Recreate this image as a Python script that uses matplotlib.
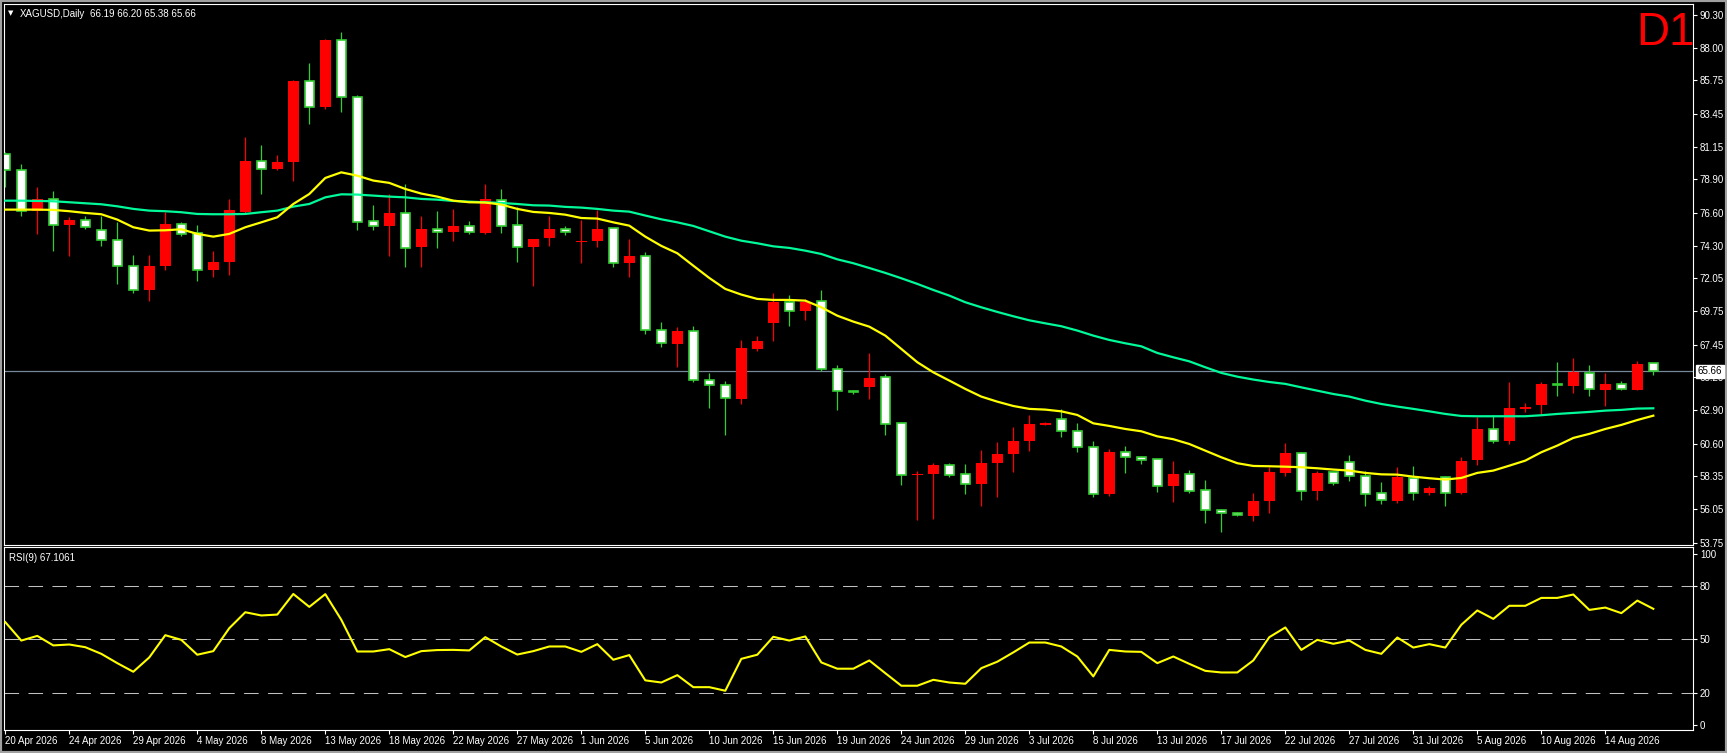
import matplotlib
matplotlib.use("Agg")
import matplotlib.pyplot as plt
from matplotlib.patches import Rectangle
import numpy as np
import pandas as pd

# XAGUSD daily bars, 20 Apr 2026 .. 18 Aug 2026 (broker has Sunday bars)
opens = [80.65, 79.55, 76.69, 77.52, 75.72, 76.09, 75.39, 74.70, 72.90, 71.22,
         72.88, 75.81, 75.16, 72.60, 73.16, 76.66, 80.17, 79.59, 80.08, 85.70,
         83.88, 88.54, 84.60, 76.02, 75.65, 76.57, 74.19, 75.46, 75.23, 75.67,
         75.16, 77.45, 75.74, 74.19, 74.82, 75.44, 74.59, 74.61, 75.53, 73.09,
         73.59, 68.47, 67.50, 68.40, 65.01, 64.67, 63.67, 67.13, 68.93, 70.41,
         69.76, 70.46, 65.75, 64.25, 64.50, 65.22, 62.04, 58.46, 58.48, 59.13,
         58.51, 57.79, 59.25, 59.87, 60.77, 61.88, 62.31, 61.48, 60.38, 57.10,
         60.03, 59.71, 59.55, 57.65, 58.51, 57.40, 56.02, 55.83, 55.58, 56.62,
         58.60, 59.96, 57.31, 58.62, 59.34, 58.37, 57.19, 56.66, 58.23, 57.17,
         58.28, 57.17, 59.48, 61.62, 60.77, 62.98, 63.31, 64.74, 64.62, 65.52,
         64.34, 64.74, 64.34, 66.19]
highs = [80.80, 79.96, 78.39, 78.12, 76.32, 76.36, 76.36, 75.97, 73.69, 73.69,
         76.66, 75.95, 75.76, 73.96, 77.56, 81.85, 81.30, 80.61, 85.80, 86.97,
         88.60, 89.12, 84.76, 77.15, 77.91, 78.60, 76.39, 76.73, 76.87, 76.04,
         78.60, 78.25, 76.96, 74.80, 76.39, 75.67, 76.09, 76.80, 75.55, 74.79,
         73.89, 69.05, 68.70, 68.77, 65.52, 64.97, 67.80, 68.08, 71.06, 70.92,
         70.62, 71.26, 66.07, 64.30, 66.90, 65.43, 62.13, 58.74, 59.27, 59.25,
         59.22, 60.19, 60.74, 61.78, 62.61, 62.11, 63.01, 62.04, 60.81, 60.24,
         60.47, 59.77, 59.57, 59.43, 58.81, 58.09, 56.05, 55.90, 57.21, 58.97,
         60.68, 60.00, 58.74, 58.65, 59.85, 58.69, 57.98, 59.01, 59.08, 57.70,
         58.39, 59.71, 62.43, 62.59, 64.90, 63.42, 64.90, 66.24, 66.56, 66.07,
         65.47, 64.92, 66.30, 66.20]
lows = [78.35, 76.39, 75.12, 73.92, 73.62, 75.49, 74.31, 71.68, 71.01, 70.50,
        72.65, 74.98, 71.89, 72.12, 72.30, 76.60, 77.88, 79.55, 78.76, 82.71,
        83.74, 83.54, 75.42, 75.42, 73.57, 72.81, 72.81, 74.12, 74.66, 75.09,
        75.10, 75.16, 73.16, 71.50, 74.26, 75.05, 73.09, 74.19, 72.86, 72.12,
        68.20, 67.27, 65.89, 64.85, 63.05, 61.18, 63.33, 67.00, 67.69, 68.77,
        69.19, 65.66, 62.96, 64.04, 63.67, 61.18, 57.72, 55.32, 55.37, 58.28,
        57.10, 56.32, 56.89, 58.62, 60.08, 61.88, 61.04, 60.01, 56.89, 57.01,
        58.55, 59.18, 57.24, 56.55, 57.17, 55.09, 54.47, 55.58, 55.23, 55.79,
        58.35, 56.73, 56.73, 57.77, 58.00, 56.32, 56.41, 56.48, 56.73, 57.08,
        56.27, 57.12, 59.13, 60.63, 60.58, 62.77, 62.66, 63.93, 64.09, 63.88,
        63.19, 64.32, 64.32, 65.38]
closes = [79.55, 76.69, 77.54, 75.74, 76.11, 75.60, 74.70, 72.90, 71.24, 72.92,
          75.83, 75.12, 72.63, 73.20, 76.80, 80.19, 79.59, 80.12, 85.73, 83.91,
          88.57, 84.60, 75.95, 75.67, 76.59, 74.15, 75.49, 75.26, 75.67, 75.26,
          77.54, 75.67, 74.22, 74.77, 75.46, 75.28, 74.63, 75.46, 73.11, 73.59,
          68.47, 67.57, 68.43, 65.01, 64.67, 63.77, 67.23, 67.71, 70.41, 69.79,
          70.43, 65.77, 64.25, 64.21, 65.17, 61.97, 58.44, 58.51, 59.15, 58.44,
          57.82, 59.29, 59.92, 60.81, 61.97, 62.04, 61.48, 60.38, 57.12, 60.05,
          59.68, 59.48, 57.68, 58.51, 57.33, 56.02, 55.81, 55.67, 56.66, 58.67,
          59.98, 57.31, 58.60, 57.88, 58.37, 57.12, 56.71, 58.32, 57.19, 57.54,
          57.19, 59.43, 61.64, 60.77, 63.10, 63.17, 64.76, 64.69, 65.54, 64.39,
          64.76, 64.39, 66.14, 65.66]

# moving averages as plotted (yellow = fast, green = slow)
ma_fast = [76.80, 76.80, 76.80, 76.78, 76.69, 76.57, 76.48, 76.11, 75.58, 75.35,
           75.37, 75.44, 75.12, 74.93, 75.12, 75.58, 75.92, 76.27, 77.19, 77.88,
           78.99, 79.38, 79.15, 78.81, 78.65, 78.23, 77.91, 77.70, 77.42, 77.31,
           77.29, 77.15, 76.85, 76.64, 76.57, 76.45, 76.22, 76.18, 75.92, 75.69,
           74.93, 74.29, 73.78, 72.92, 72.07, 71.31, 70.92, 70.62, 70.55, 70.55,
           70.50, 70.04, 69.46, 69.05, 68.70, 68.08, 67.16, 66.24, 65.54, 64.97,
           64.39, 63.86, 63.51, 63.21, 63.01, 62.96, 62.84, 62.59, 62.01, 61.83,
           61.62, 61.46, 61.11, 60.91, 60.58, 60.12, 59.66, 59.25, 59.06, 59.04,
           59.01, 58.97, 58.90, 58.81, 58.74, 58.58, 58.48, 58.46, 58.32, 58.21,
           58.12, 58.23, 58.58, 58.74, 59.08, 59.43, 60.01, 60.47, 61.00, 61.28,
           61.62, 61.90, 62.24, 62.54]
ma_slow = [77.42, 77.42, 77.40, 77.38, 77.31, 77.24, 77.17, 77.03, 76.85, 76.73,
           76.69, 76.62, 76.50, 76.48, 76.48, 76.50, 76.62, 76.73, 77.01, 77.19,
           77.65, 77.86, 77.84, 77.77, 77.70, 77.65, 77.54, 77.49, 77.40, 77.35,
           77.31, 77.26, 77.19, 77.10, 77.08, 76.99, 76.94, 76.85, 76.73, 76.66,
           76.39, 76.13, 75.92, 75.67, 75.30, 74.93, 74.65, 74.47, 74.26, 74.15,
           73.96, 73.73, 73.36, 73.09, 72.76, 72.42, 72.05, 71.66, 71.24, 70.85,
           70.39, 70.04, 69.72, 69.42, 69.14, 68.93, 68.73, 68.43, 68.08, 67.78,
           67.55, 67.34, 66.88, 66.58, 66.30, 65.89, 65.50, 65.24, 65.04, 64.87,
           64.74, 64.50, 64.27, 64.04, 63.86, 63.58, 63.35, 63.17, 63.01, 62.84,
           62.66, 62.52, 62.50, 62.50, 62.50, 62.50, 62.57, 62.66, 62.73, 62.80,
           62.89, 62.94, 63.03, 63.05]

rsi = [59.7, 49.4, 52.0, 46.7, 47.2, 45.7, 42.0, 36.8, 32.0, 40.0,
       52.4, 49.8, 41.5, 43.5, 56.3, 65.2, 63.4, 63.9, 75.4, 68.2,
       75.3, 61.0, 43.3, 43.3, 44.6, 40.2, 43.5, 44.1, 44.2, 43.9,
       51.3, 46.1, 41.6, 43.5, 46.1, 46.1, 43.1, 47.4, 38.7, 41.3,
       27.2, 26.0, 30.1, 23.4, 23.4, 21.4, 39.2, 41.5, 51.5, 49.4,
       51.7, 37.2, 33.7, 33.7, 38.3, 31.2, 24.2, 24.2, 27.5, 26.0,
       25.3, 34.0, 37.6, 42.8, 48.3, 48.3, 46.1, 40.5, 29.4, 44.2,
       43.3, 43.1, 36.8, 40.5, 36.4, 32.5, 31.6, 31.6, 38.3, 51.3,
       56.7, 44.2, 49.8, 47.6, 49.4, 44.2, 42.0, 51.1, 45.5, 47.4,
       45.5, 58.2, 66.2, 61.5, 68.8, 68.8, 73.2, 73.2, 75.1, 66.5,
       67.8, 64.7, 71.7, 67.1061]

price_ticks = [53.75, 56.05, 58.35, 60.60, 62.90, 65.20, 67.45, 69.75, 72.05,
               74.30, 76.60, 78.90, 81.15, 83.45, 85.75, 88.00, 90.30]
price_labels = [f"{v:.2f}" for v in price_ticks]
rsi_levels = [20, 50, 80]
rsi_labels = ["100", "80", "50", "20", "0"]
last_price = 65.66
symbol = "XAGUSD,Daily"
ohlc_text = "66.19 66.20 65.38 65.66"

RED = "#ff0000"
GREEN = "#32cd32"
W, H = 1727, 753

plt.rcParams["font.family"] = ["Liberation Sans", "DejaVu Sans"]

dates = pd.bdate_range("2026-04-20", periods=len(opens), freq="C",
                       weekmask="Sun Mon Tue Wed Thu Fri")
x = np.arange(len(opens))
o, h, l, c = (np.array(v) for v in (opens, highs, lows, closes))
bull = c >= o

fig = plt.figure(figsize=(W / 100, H / 100), dpi=100, facecolor="black")


def px_axes(left, top, right, bottom):
    return fig.add_axes([left / W, 1 - bottom / H, (right - left) / W, (bottom - top) / H])


ax = px_axes(4, 4, 1693, 545)
axr = px_axes(4, 547, 1693, 730)

for a in (ax, axr):
    a.set_facecolor("black")
    a.set_xlim(-0.08, 105.48)
    for s in a.spines.values():
        s.set_color("white")
        s.set_linewidth(0.8)
    a.yaxis.tick_right()
    a.tick_params(axis="y", length=3, width=0.8, color="white", labelcolor="white",
                  labelsize=7, pad=2)

# price panel
ax.set_ylim(53.59, 91.03)
ax.axhline(last_price, color="#778899", lw=0.9, zorder=1)
ax.vlines(x, l, h, colors=np.where(bull, RED, GREEN), lw=0.9, zorder=2)
body_lo = np.minimum(o, c)
body_h = np.maximum(np.abs(c - o), 0.03)
ax.bar(x[bull], body_h[bull], bottom=body_lo[bull], width=0.67, color=RED, lw=0, zorder=3)
ax.bar(x[~bull], body_h[~bull], bottom=body_lo[~bull], width=0.57, color="white",
       edgecolor=GREEN, lw=1.2, zorder=3)
ax.plot(x, ma_slow, color="#00fa9a", lw=1.6, zorder=4)
ax.plot(x, ma_fast, color="#ffff00", lw=1.6, zorder=4)
ax.set_yticks(price_ticks, price_labels)
ax.tick_params(axis="x", bottom=False, labelbottom=False)

# RSI panel
axr.set_ylim(-0.5, 101.6)
for lv in rsi_levels:
    axr.axhline(lv, color="#c0c0c0", lw=0.75, dashes=(14, 9), zorder=1)
axr.plot(x, rsi, color="#ffff00", lw=1.5, zorder=3)
axr.set_yticks([97.5, 80, 50, 20, 2.5], rsi_labels)
tick_idx = x[::4][:26]
axr.set_xticks(tick_idx, [f"{d.day} {d:%b %Y}" for d in dates[tick_idx]], ha="left")
axr.tick_params(axis="x", length=3, width=0.8, color="white", labelcolor="white",
                labelsize=7, pad=1)

# labels
fig.text(8 / W, 1 - 12.5 / H, "\u25bc", fontsize=5, color="white",
         family="DejaVu Sans", va="center_baseline")
fig.text(19.5 / W, 1 - 12.7 / H, symbol, fontsize=7, color="white", va="center_baseline")
fig.text(90 / W, 1 - 12.7 / H, ohlc_text, fontsize=7, color="white", va="center_baseline")
fig.text(9 / W, 1 - 556.7 / H, f"RSI(9) {rsi[-1]:.4f}", fontsize=7, color="white",
         va="center_baseline")
fig.text(1636.5 / W, 1 - 45 / H, "D1", fontsize=33, color=RED, va="baseline")
fig.text(1698 / W, 1 - 370.5 / H, f"{last_price:.2f}", fontsize=7, color="black",
         va="center_baseline", zorder=10,
         bbox=dict(boxstyle="square,pad=0.2", fc="white", ec="white"))

fig.add_artist(Rectangle((0, 0), 1, 1, transform=fig.transFigure, fill=False,
                         ec="#a0a0a0", lw=3))

fig.savefig("out.png", dpi=100, facecolor="black")
